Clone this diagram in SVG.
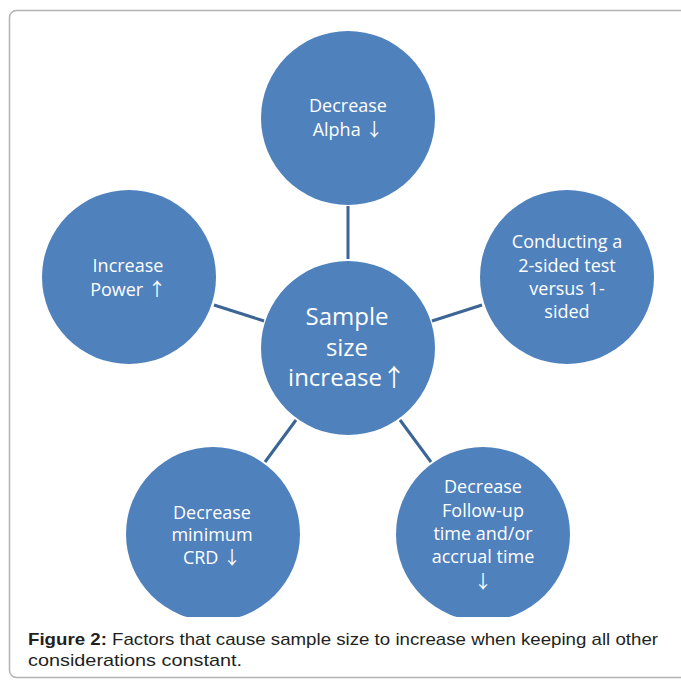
<svg xmlns="http://www.w3.org/2000/svg" width="681" height="680" viewBox="0 0 681 680">
<style>
.node{fill:#4f81bd}
.t{fill:#ffffff;font-family:"Open Sans","DejaVu Sans",sans-serif;font-size:18px;text-anchor:middle}
.tc{font-size:24px}
.ar{font-family:"Noto Sans CJK SC","DejaVu Sans",sans-serif}
.conn line{stroke:#3a6595;stroke-width:3}
.cap{font-family:"Liberation Sans",Arial,sans-serif;font-size:17px;fill:#231f20}
</style>
<defs>
<clipPath id="clip"><rect x="0" y="0" width="681" height="617"/></clipPath>
</defs>
<rect x="9.5" y="10.5" width="690" height="667" rx="7" fill="#ffffff" stroke="#b3b3b3" stroke-width="1.5"/>
<g class="conn">
<line x1="348" y1="206" x2="348" y2="259"/>
<line x1="214" y1="305" x2="264" y2="321"/>
<line x1="482" y1="305" x2="432" y2="321"/>
<line x1="296" y1="420" x2="265" y2="462"/>
<line x1="400" y1="420" x2="431" y2="462"/>
</g>
<g clip-path="url(#clip)">
<g id="n-center"><circle class="node" cx="348" cy="348" r="87"/>
<text class="t tc" x="347" y="325">Sample</text><text class="t tc" x="347" y="356">size</text><text class="t tc" x="347" y="386">increase<tspan class="ar">↑</tspan></text></g>
<g id="n-alpha"><circle class="node" cx="348" cy="118" r="87"/>
<text class="t" x="348" y="112">Decrease</text><text class="t" x="348" y="136">Alpha <tspan class="ar">↓</tspan></text></g>
<g id="n-power"><circle class="node" cx="129" cy="277" r="87"/>
<text class="t" x="128" y="272">Increase</text><text class="t" x="128" y="296">Power <tspan class="ar">↑</tspan></text></g>
<g id="n-sided"><circle class="node" cx="567" cy="277" r="87"/>
<text class="t" x="567" y="248">Conducting a</text><text class="t" x="567" y="272">2-sided test</text><text class="t" x="567" y="295">versus 1-</text><text class="t" x="567" y="318">sided</text></g>
<g id="n-followup"><circle class="node" cx="483" cy="534" r="87"/>
<text class="t" x="483" y="493">Decrease</text><text class="t" x="483" y="517">Follow-up</text><text class="t" x="483" y="540">time and/or</text><text class="t" x="483" y="563">accrual time</text><text class="t ar" x="483" y="588">↓</text></g>
<g id="n-crd"><circle class="node" cx="213" cy="534" r="87"/>
<text class="t" x="212" y="519">Decrease</text><text class="t" x="212" y="541">minimum</text><text class="t" x="212" y="564">CRD <tspan class="ar">↓</tspan></text></g>
</g>
<text class="cap" x="28" y="645" textLength="630" lengthAdjust="spacingAndGlyphs"><tspan font-weight="bold">Figure 2:</tspan> Factors that cause sample size to increase when keeping all other</text>
<text class="cap" x="28" y="666" textLength="214" lengthAdjust="spacingAndGlyphs">considerations constant.</text>
</svg>
